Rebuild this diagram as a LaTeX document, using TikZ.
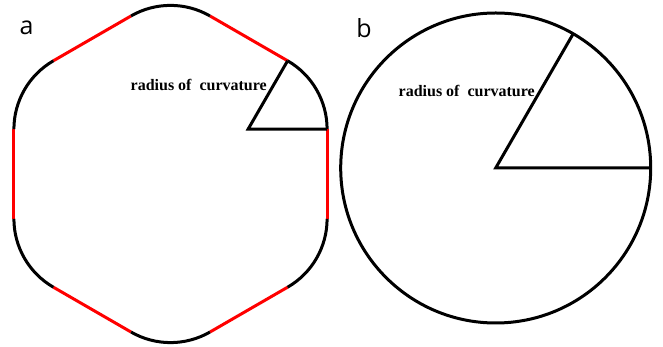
\documentclass[tikz,border=0pt]{standalone}
\usepackage{fontspec}
\setmainfont{Liberation Serif}
\newfontfamily\panelfont{Open Sans}
\usepackage{tikz}
\usetikzlibrary{calc}

\begin{document}
\begin{tikzpicture}[
    x=1pt, y=1pt,
    curve/.style={line width=3pt, black},
    flat/.style={line width=3pt, red},
    radline/.style={line width=3pt, black, line join=miter},
    panel/.style={font=\panelfont\fontsize{25}{30}\selectfont},
    rlabel/.style={font=\bfseries\fontsize{16}{19}\selectfont, inner sep=0pt, anchor=base east}
]
\useasboundingbox (0,0) rectangle (663,347);

% Panel a: hexagon with rounded corners
\coordinate (hex) at (170.5,173);
\foreach \k in {0,...,5} {
    \pgfmathsetmacro\t{30+60*\k}
    \coordinate (c\k) at ($(hex)+(\t:89.6pt)$);
    \draw[flat] ($(c\k)+(\t+30:79pt)$) -- ++(\t+120:89.6pt);
    \draw[curve] ($(c\k)+(\t-30:79pt)$) arc[start angle=\t-30, end angle=\t+30, radius=79pt];
}
\coordinate (ra1) at ($(c0)+(0:79pt)$);
\coordinate (ra2) at ($(c0)+(60:79pt)$);
\draw[radline] (ra1) -- (c0) -- (ra2);

% Panel b: circle
\coordinate (cb) at (495.7,179);
\draw[curve] (cb) circle[radius=155pt];
\coordinate (rb1) at ($(cb)+(0:155pt)$);
\coordinate (rb2) at ($(cb)+(60:155pt)$);
\draw[radline] (rb1) -- (cb) -- (rb2);

% Labels
\node[panel] (la) at (26.5,319) {a};
\node[panel] (lb) at (364,319) {b};
\node[rlabel] (rca) at (267,256) {radius of\hspace{4pt} curvature};
\node[rlabel] (rcb) at (535,250) {radius of\hspace{4pt} curvature};

\end{tikzpicture}
\end{document}
